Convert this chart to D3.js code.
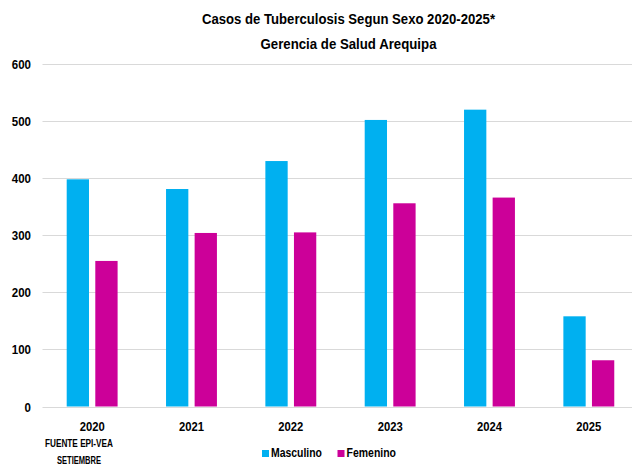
<!DOCTYPE html>
<html>
<head>
<meta charset="utf-8">
<script src="https://cdn.jsdelivr.net/npm/d3@7"></script>
<style>
  html, body { margin: 0; padding: 0; background: #fff; }
  svg { display: block; }
  text { font-family: "Liberation Sans", Arial, sans-serif; font-weight: bold; fill: #000; }
</style>
</head>
<body>
<svg id="chart" width="632" height="465"></svg>
<script>
// Tuberculosis cases by sex, Gerencia de Salud Arequipa
const years = ["2020", "2021", "2022", "2023", "2024", "2025"];
const masculino = [398, 381, 430, 502, 520, 158];
const femenino = [255, 304, 305, 356, 366, 81];
const seriesNames = ["Masculino", "Femenino"];
const seriesColors = ["#00B0F0", "#CC0099"];
const yTicks = [0, 100, 200, 300, 400, 500, 600];
const titleLines = ["Casos de Tuberculosis Segun Sexo 2020-2025*", "Gerencia de Salud Arequipa"];
const sourceLines = ["FUENTE EPI-VEA", "SETIEMBRE"];

const svg = d3.select("#chart");
const W = 632;
const plot = { left: 42.5, right: 638.5, top: 64, bottom: 406.5 };

// Condensed look: squeeze a bold sans to a set width per label
const narrow = (sel, widthOf) => sel
  .attr("textLength", widthOf)
  .attr("lengthAdjust", "spacingAndGlyphs");

const x = d3.scaleBand().domain(years).range([plot.left, plot.right]).paddingInner(0).paddingOuter(0);
const inner = d3.scaleBand().domain(seriesNames).range([24.2, 75.1]).paddingInner(0.22).paddingOuter(0);
const y = d3.scaleLinear().domain([0, 600]).range([plot.bottom, plot.top]);

// Title
const titleWidths = [293, 176];
svg.append("g").selectAll("text").data(titleLines).join("text")
  .attr("x", 348.5).attr("y", (d, i) => 24 + i * 25)
  .attr("text-anchor", "middle").style("font-size", "15px")
  .text(d => d)
  .call(narrow, (d, i) => titleWidths[i]);

// Gridlines
svg.append("g").selectAll("line").data(yTicks).join("line")
  .attr("x1", plot.left).attr("x2", W)
  .attr("y1", d => Math.round(y(d)) + 0.5).attr("y2", d => Math.round(y(d)) + 0.5)
  .attr("stroke", "#d9d9d9").attr("stroke-width", 1);

// Y axis labels
const yAxis = d3.axisLeft(y).tickValues(yTicks).tickSize(0).tickPadding(0);
const yg = svg.append("g").attr("transform", `translate(31,0)`).call(yAxis);
yg.select(".domain").remove();
yg.selectAll("text").style("font-size", "12.5px").attr("dy", "0.36em")
  .style("font-family", null).attr("fill", "#000")
  .attr("text-anchor", "end")
  .call(narrow, d => String(d).length * 6.4);

// Bars
const data = years.map((yr, i) => ({ year: yr, values: [masculino[i], femenino[i]] }));
const groups = svg.append("g").selectAll("g").data(data).join("g")
  .attr("transform", d => `translate(${x(d.year)},0)`);
groups.selectAll("rect").data(d => d.values.map((v, k) => ({ name: seriesNames[k], value: v, color: seriesColors[k] })))
  .join("rect")
  .attr("x", d => inner(d.name))
  .attr("width", inner.bandwidth())
  .attr("y", d => y(d.value))
  .attr("height", d => y(0) - y(d.value))
  .attr("fill", d => d.color);

// X axis labels, centred under each pair of bars
const groupCenter = (inner(seriesNames[0]) + inner(seriesNames[1]) + inner.bandwidth()) / 2;
const xAxis = d3.axisBottom(x).tickSize(0).tickPadding(0);
const xg = svg.append("g").attr("transform", `translate(${groupCenter - x.bandwidth() / 2},${plot.bottom})`).call(xAxis);
xg.select(".domain").remove();
xg.selectAll("text").style("font-size", "12px").attr("y", 24.8).attr("dy", null)
  .style("font-family", null).attr("fill", "#000")
  .call(narrow, 25);

// Source note under the first category
const sourceWidths = [68, 44];
svg.append("g").selectAll("text").data(sourceLines).join("text")
  .attr("x", 79).attr("y", (d, i) => 446.5 + i * 17)
  .attr("text-anchor", "middle").style("font-size", "11.5px")
  .text(d => d)
  .call(narrow, (d, i) => sourceWidths[i]);

// Legend
const legendX = [262, 337.5];
const legendTextWidths = [51, 49.5];
const legend = svg.append("g").selectAll("g").data(seriesNames).join("g")
  .attr("transform", (d, i) => `translate(${legendX[i]},0)`);
legend.append("rect").attr("x", 0).attr("y", 450).attr("width", 7).attr("height", 7)
  .attr("fill", (d, i) => seriesColors[i]);
legend.append("text").attr("x", 9).attr("y", 457)
  .style("font-size", "12px").text(d => d)
  .call(narrow, (d, i) => legendTextWidths[i]);
</script>
</body>
</html>
